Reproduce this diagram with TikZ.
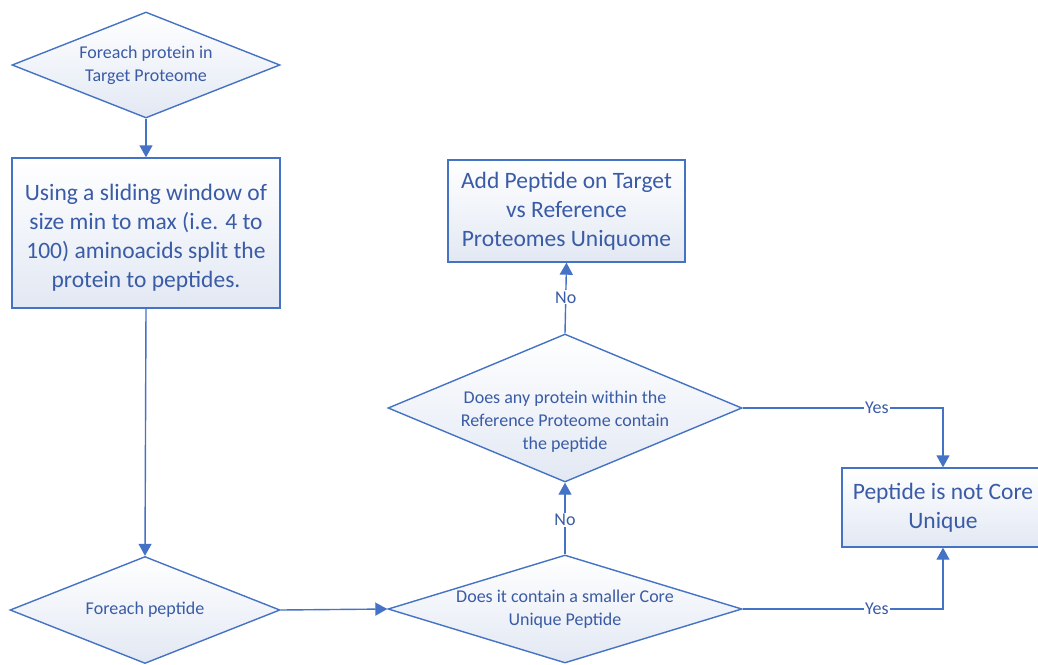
\documentclass[tikz,border=0pt]{standalone}
\usepackage{fontspec}
\setmainfont{Carlito}
\usetikzlibrary{shapes.geometric,arrows.meta}
\definecolor{ln}{HTML}{4472C4}
\definecolor{tx}{HTML}{3A5BA6}
\definecolor{fl}{HTML}{E2E8F3}
\tikzset{
  shp/.style={draw=ln, line width=1.4pt, top color=white, bottom color=fl, text=tx, align=center, inner sep=0pt},
  boxnode/.style={shp, rectangle, font=\fontsize{23.5}{29}\selectfont},
  dia/.style={shp, diamond, font=\fontsize{18}{23}\selectfont},
  arr/.style={draw=ln, line width=1.4pt, -{Triangle[length=12pt,width=13pt]}},
  lbl/.style={fill=white, text=tx, font=\fontsize{18}{20}\selectfont, inner sep=1pt}
}
\begin{document}
\begin{tikzpicture}[x=1pt,y=-1pt]
\useasboundingbox (0,0) rectangle (1038,664);
\node[dia, aspect=2.5, minimum width=268pt, minimum height=106pt] (d1) at (146,65) {Foreach protein in\\Target Proteome};
\node[boxnode, minimum width=268pt, minimum height=150pt] (b1) at (146,233) {\rule{0pt}{25pt}Using a sliding window of\\size min to max (i.e. 4 to\\100) aminoacids split the\\protein to peptides.};
\node[dia, aspect=2.5, minimum width=270pt, minimum height=107pt] (d2) at (145,610) {Foreach peptide};
\node[dia, aspect=3.3, inner xsep=-12pt, minimum width=354pt, minimum height=108pt] (d3) at (565,609) {Does it contain a smaller Core\\Unique Peptide};
\node[dia, aspect=2.4, inner xsep=-20pt, inner ysep=-20pt, minimum width=354pt, minimum height=148pt] (d4) at (565,408) {\rule{0pt}{39pt}Does any protein within the\\Reference Proteome contain\\the peptide};
\node[boxnode, minimum width=237pt, minimum height=102pt] (b2) at (566.5,211) {Add Peptide on Target\\vs Reference\\Proteomes Uniquome};
\node[boxnode, minimum width=202pt, minimum height=79pt] (b3) at (943,507.5) {Peptide is not Core\\Unique};
\draw[arr] (d1.south) -- (b1.north);
\draw[arr] (b1.south) -- (d2.north);
\draw[arr] (d2.east) -- (d3.west);
\draw[arr] (d3.north) -- node[lbl, pos=0.48] (n1) {No} (d4.south);
\draw[arr] (d4.north) -- node[lbl, pos=0.51] (n2) {No} (b2.south);
\draw[arr] (d4.east) -| node[lbl, pos=0.335] (y1) {Yes} (b3.north);
\draw[arr] (d3.east) -| node[lbl, pos=0.335] (y2) {Yes} (b3.south);
\end{tikzpicture}
\end{document}
